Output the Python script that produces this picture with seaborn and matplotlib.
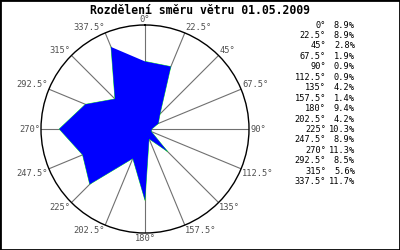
import numpy as np
import matplotlib
matplotlib.use("Agg")
import matplotlib.pyplot as plt
import seaborn as sns
from matplotlib.patches import Rectangle

directions = [0, 22.5, 45, 67.5, 90, 112.5, 135, 157.5, 180, 202.5, 225, 247.5, 270, 292.5, 315, 337.5]
dir_labels = ["0°", "22.5°", "45°", "67.5°", "90°", "112.5°", "135°", "157.5°",
              "180°", "202.5°", "225°", "247.5°", "270°", "292.5°", "315°", "337.5°"]
percent = [8.9, 8.9, 2.8, 1.9, 0.9, 0.9, 4.2, 1.4, 9.4, 4.2, 10.3, 8.9, 11.3, 8.5, 5.6, 11.7]
title = "Rozdělení směru větru 01.05.2009"

sns.set_style("white")
plt.rcParams['font.family'] = ['DejaVu Sans Mono', 'DejaVu Sans']

W, H = 400, 250
fig = plt.figure(figsize=(4, 2.5), dpi=100)
cx, cy, R = 145, 129, 104
ax = fig.add_axes([(cx - R) / W, (H - cy - R) / H, 2 * R / W, 2 * R / H], projection='polar')
ax.set_theta_zero_location('N')
ax.set_theta_direction(-1)
rmax = 13.7
ax.set_ylim(0, rmax)
ax.set_yticks([])
theta = np.deg2rad(directions)
ax.set_xticks(theta)
ax.set_xticklabels([])
ax.grid(False)
for t in theta:
    ax.plot([t, t], [0, rmax], color='#707070', lw=0.8, zorder=1)
ax.spines['polar'].set_color('black')
ax.spines['polar'].set_linewidth(1.0)

tc = np.append(theta, theta[0])
vc = np.append(percent, percent[0])
ax.fill(tc, vc, color='#0000ff', zorder=3, lw=0)
sns.lineplot(x=tc, y=vc, sort=False, color='#00ff00', lw=0.5, ax=ax, zorder=2)

for d, lab in zip(directions, dir_labels):
    if d in (0, 180):
        ha = 'center'
    elif d < 180:
        ha = 'left'
    else:
        ha = 'right'
    if d in (90, 270):
        va = 'center'
    elif d < 90 or d > 270:
        va = 'bottom'
    else:
        va = 'top'
    ax.text(np.deg2rad(d), rmax * 1.01, lab, ha=ha, va=va, fontsize=6.3,
            color='#505050', clip_on=False)

fig.text(200 / W, 1 - 10 / H, title, ha='center', va='center', fontsize=8.3,
         fontweight='bold', color='black')

for i, (lab, p) in enumerate(zip(dir_labels, percent)):
    y = 1 - (25 + i * 10.45) / H
    fig.text(326 / W, y, lab, ha='right', va='center', fontsize=6.2, color='black')
    fig.text(355 / W, y, f"{p:.1f}%", ha='right', va='center', fontsize=6.2, color='black')

fig.patches.append(Rectangle((0, 0), 1, 1, transform=fig.transFigure, fill=False,
                             edgecolor='black', lw=2, zorder=10))
fig.savefig("out.png", dpi=100, facecolor='white')
